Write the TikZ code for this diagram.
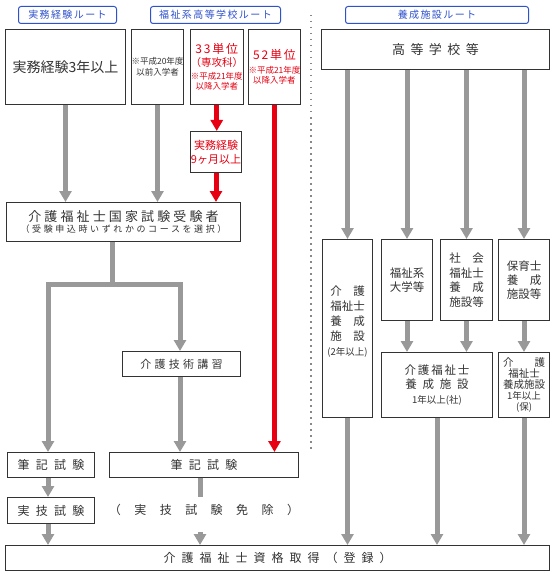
\documentclass[tikz,border=0pt]{standalone}
\usepackage{fontspec}
\setmainfont{Noto Sans CJK JP}
\usetikzlibrary{arrows.meta}
\definecolor{arrgray}{HTML}{999999}
\definecolor{arrred}{HTML}{E60012}
\definecolor{lblue}{HTML}{2F52CC}
\definecolor{txt}{HTML}{333333}
\definecolor{frame}{HTML}{333333}
\definecolor{dotc}{HTML}{888888}
\newcommand\fs[2]{\fontsize{#1}{#2}\selectfont}
\newcommand\ls[1]{\addfontfeature{LetterSpace=#1}}
\begin{document}
\begin{tikzpicture}[x=1pt,y=-1pt,
  box/.style={draw=frame, line width=1pt, inner sep=0pt, text=txt, align=center, anchor=north west},
  lbl/.style={draw=lblue, line width=1pt, rounded corners=2.5pt, inner sep=0pt, text=lblue, anchor=north west, font=\fs{10}{12}\ls{14}},
  garr/.style={draw=arrgray, line width=5pt, -{Triangle[width=12pt,length=11pt]}},
  gline/.style={draw=arrgray, line width=5pt},
  rarr/.style={draw=arrred, line width=5pt, -{Triangle[width=12pt,length=11pt]}},
  rtxt/.style={text=arrred}
]
\useasboundingbox (0,0) rectangle (550,575);
\fill[white] (0,0) rectangle (550,575);

% route labels
\node[lbl, minimum width=98, minimum height=17] (l1) at (18,6) {実務経験ルート};
\node[lbl, minimum width=130, minimum height=17] (l2) at (150,6) {福祉系高等学校ルート};
\node[lbl, minimum width=183, minimum height=17] (l3) at (345,6) {養成施設ルート};

% dotted separator
\draw[dotc, line width=1.5pt, dash pattern=on 1.5pt off 4.5pt] (311,15) -- (311,452);

% top row
\node[box, minimum width=120, minimum height=75, font=\fs{14}{16}] (j3) at (5,29) {実務経験3年以上};
\node[box, minimum width=52, minimum height=75, font=\fs{8.5}{10.5}] (h20) at (131,29) {※平成20年度\\以前入学者};
\node[box, minimum width=52, minimum height=75, font=\fs{8.5}{10.5}, rtxt] (u33) at (190,29)
  {{\fs{12}{14}\ls{15}33単位}\\[3pt]{\fs{10.5}{13}（専攻科）}\\[2pt]※平成21年度\\以降入学者};
\node[box, minimum width=51, minimum height=75, font=\fs{8.5}{10.5}, rtxt] (u52) at (248,29)
  {{\fs{12}{14}\ls{15}52単位}\\[3pt]※平成21年度\\以降入学者};
\node[box, minimum width=228, minimum height=40, font=\fs{13}{15}\ls{42}] (hs) at (321,29) {高等学校等};

\node[box, minimum width=51, minimum height=41, font=\fs{11}{14}, rtxt] (j9) at (190,131) {実務経験\\9ヶ月以上};

\node[box, minimum width=234, minimum height=39] (exam) at (6,202)
  {{\fs{13}{15}\ls{24}介護福祉士国家試験受験者}\\[-1pt]{\fs{9}{11}\ls{29}（受験申込時いずれかのコースを選択）}};

\node[box, minimum width=118, minimum height=25, font=\fs{11}{13}\ls{30}] (kaigo) at (122,351) {介護技術講習};

\node[box, minimum width=87, minimum height=25, font=\fs{12}{14}\ls{52}] (hw1) at (7,452) {筆記試験};
\node[box, minimum width=189, minimum height=25, font=\fs{12}{14}\ls{52}] (hw2) at (109,452) {筆記試験};
\node[box, minimum width=87, minimum height=26, font=\fs{12}{14}\ls{52}] (jg) at (7,497) {実技試験};
\node[inner sep=0pt, text=txt, font=\fs{12}{14}\ls{112}] (menjo) at (204,510) {（実技試験免除）};

\node[box, minimum width=544, minimum height=25, font=\fs{12}{14}\ls{50}] (fin) at (5,545) {介護福祉士資格取得（登録）};

% right column
\node[box, minimum width=50, minimum height=178, font=\fs{11.5}{15}] (y2) at (322,239)
  {介　護\\福祉士\\養　成\\施　設\\{\fs{9.5}{12}(2年以上)}\\\mbox{}};
\node[box, minimum width=51, minimum height=81, font=\fs{11.5}{14}] (fd) at (381,239) {福祉系\\大学等};
\node[box, minimum width=52, minimum height=81, font=\fs{11.5}{14.5}] (sk) at (440,239) {社　会\\福祉士\\養　成\\施設等};
\node[box, minimum width=51, minimum height=81, font=\fs{11.5}{14}] (hk) at (498,239) {保育士\\養　成\\施設等};
\node[box, minimum width=111, minimum height=65, font=\fs{11.5}{14.5}] (y1s) at (381,352)
  {{\ls{16}介護福祉士}\\{\ls{50}養成施設}\\{\fs{9.5}{12}1年以上(社)}};
\node[box, minimum width=51, minimum height=65, font=\fs{10.5}{11.5}] (y1h) at (498,352)
  {介　　護\\[-0.5pt]福祉士\\[-0.5pt]養成施設\\[-0.5pt]{\fs{9.5}{11.5}1年以上}\\[-0.5pt]{\fs{9.5}{11.5}(保)}};

% coordinates
\coordinate (split) at (112,284);
\coordinate (splitL) at (48,284);
\coordinate (splitR) at (180,284);
\coordinate (mt) at (200,497);
\coordinate (mb) at (200,532);

% left arrows
\draw[garr] (j3.south) -- (j3.south |- exam.north);
\draw[garr] (h20.south) -- (h20.south |- exam.north);
\draw[rarr] (u33.south) -- (u33.south |- j9.north);
\draw[rarr] (j9.south) -- (j9.south |- exam.north);
\draw[rarr] (u52.south) -- (u52.south |- hw2.north);

\draw[gline] (exam.south -| split) -- (split);
\draw[garr, line join=miter] (split) -- (splitL) -- (splitL |- hw1.north);
\draw[garr, line join=miter] (split) -- (splitR) -- (splitR |- kaigo.north);
\draw[garr] (kaigo.south -| splitR) -- (splitR |- hw2.north);
\draw[garr] (hw1.south -| splitL) -- (splitL |- jg.north);
\draw[garr] (jg.south -| splitL) -- (splitL |- fin.north);
\draw[gline] (hw2.south -| mt) -- (mt);
\draw[garr] (mb) -- (mb |- fin.north);

% right arrows
\draw[garr] (hs.south -| y2.north) -- (y2.north);
\draw[garr] (hs.south -| fd.north) -- (fd.north);
\draw[garr] (hs.south -| sk.north) -- (sk.north);
\draw[garr] (hs.south -| hk.north) -- (hk.north);
\draw[garr] (fd.south) -- (fd.south |- y1s.north);
\draw[garr] (sk.south) -- (sk.south |- y1s.north);
\draw[garr] (hk.south) -- (hk.south |- y1h.north);
\draw[garr] (y2.south) -- (y2.south |- fin.north);
\draw[garr] (y1s.south) -- (y1s.south |- fin.north);
\draw[garr] (y1h.south) -- (y1h.south |- fin.north);
\end{tikzpicture}
\end{document}
